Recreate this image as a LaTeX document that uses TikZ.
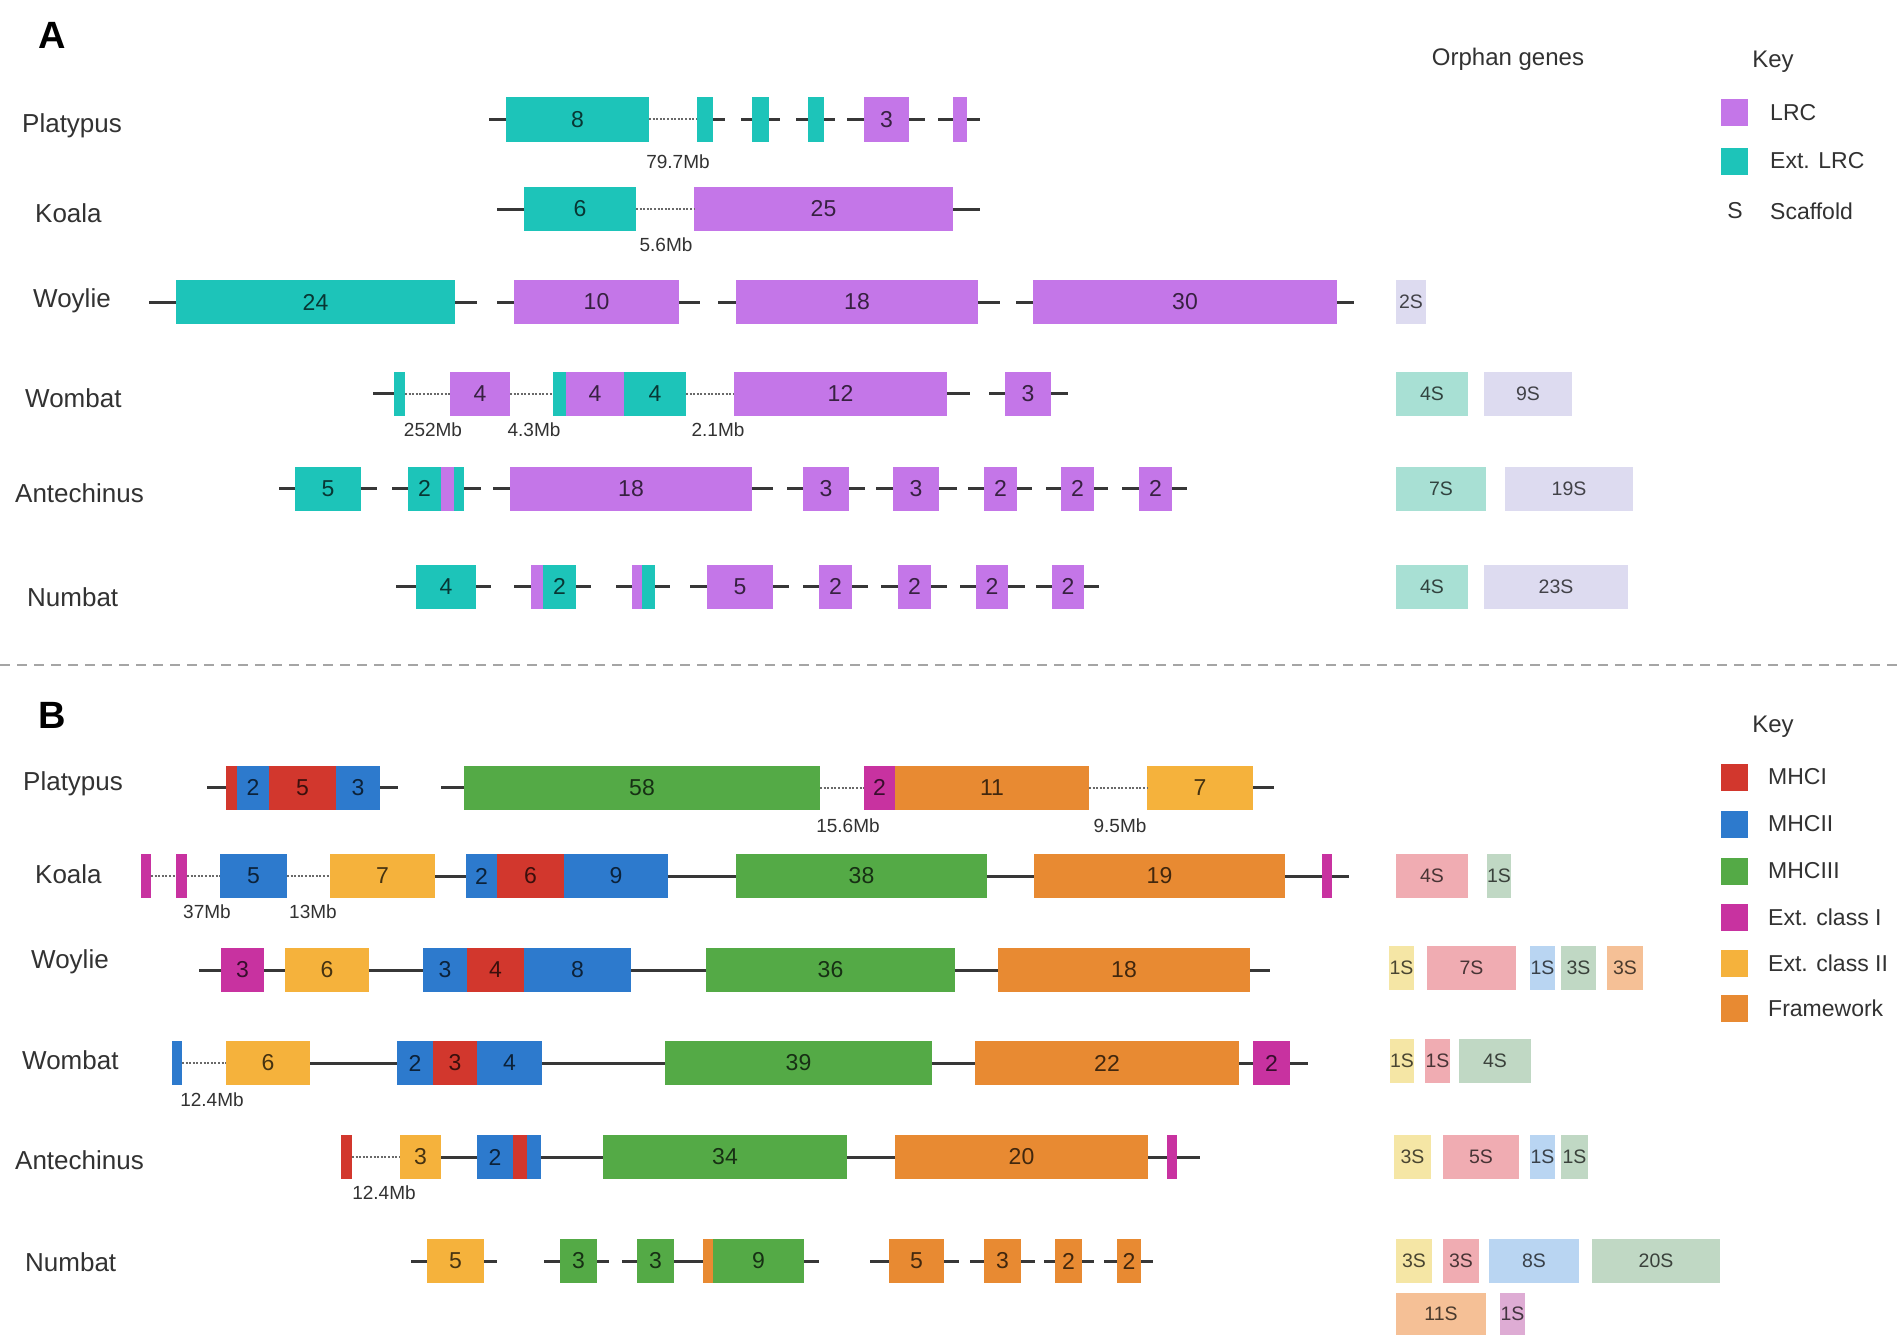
\documentclass[tikz,border=0pt]{standalone}
\usepackage{fontspec}
\setmainfont{Liberation Sans}
\definecolor{lrc}{RGB}{196,118,232}
\definecolor{extlrc}{RGB}{29,196,185}
\definecolor{mhcA}{RGB}{210,55,45}
\definecolor{mhcB}{RGB}{45,122,205}
\definecolor{mhcC}{RGB}{84,170,70}
\definecolor{extA}{RGB}{200,50,160}
\definecolor{extB}{RGB}{245,178,60}
\definecolor{frame}{RGB}{232,138,50}
\definecolor{oteal}{RGB}{168,224,212}
\definecolor{olav}{RGB}{221,219,240}
\definecolor{oyel}{RGB}{245,230,165}
\definecolor{opink}{RGB}{240,172,178}
\definecolor{oblue}{RGB}{185,213,242}
\definecolor{ogreen}{RGB}{192,216,196}
\definecolor{oorange}{RGB}{245,192,150}
\definecolor{omauve}{RGB}{222,172,212}
\definecolor{lineC}{RGB}{55,55,55}
\definecolor{labelC}{RGB}{50,50,50}
\definecolor{dotC}{RGB}{105,105,105}
\definecolor{sepC}{RGB}{165,165,165}
\newcommand{\genebox}[8][]{%
  \pgfmathsetmacro{\gbw}{#4-#3}%
  \pgfmathsetmacro{\gbx}{(#3+#4)/2}%
  \node[gb,#1,fill=#6,text=#7,minimum width=\gbw] (#2) at (\gbx,#5) {#8};}
\newcommand{\stubl}[2]{\draw[gline] (#1.west) -- ++(-#2,0);}
\newcommand{\stubr}[2]{\draw[gline] (#1.east) -- ++(#2,0);}
\newcommand{\solidc}[2]{\draw[gline] (#1.east) -- (#2.west);}
\newcommand{\dotc}[2]{\draw[dotl] (#1.east) -- (#2.west);}
\begin{document}
\begin{tikzpicture}[x=1pt,y=-1pt,
  gb/.style={inner sep=0pt,outer sep=0pt,draw=none,minimum height=44,font=\fontsize{23}{25}\selectfont},
  ob/.style={font=\fontsize{19.5}{21}\selectfont},
  species/.style={anchor=west,inner sep=0pt,text=labelC,font=\fontsize{26}{30}\selectfont},
  mb/.style={inner sep=0pt,text=labelC,font=\fontsize{19}{21}\selectfont},
  keytxt/.style={anchor=west,inner sep=0pt,text=labelC,font=\fontsize{23}{26}\selectfont},
  keysq/.style={inner sep=0pt,outer sep=0pt,minimum width=27,minimum height=27},
  heading/.style={inner sep=0pt,text=labelC,font=\fontsize{24}{27}\selectfont},
  panel/.style={inner sep=0pt,text=black,font=\bfseries\fontsize{38}{40}\selectfont},
  gline/.style={draw=lineC,line width=3pt},
  dotl/.style={draw=dotC,line width=2pt,dash pattern=on 2pt off 1.6pt},
  sepline/.style={draw=sepC,line width=2.5pt,dash pattern=on 10pt off 7pt}]
\useasboundingbox (0,0) rectangle (1902,1335);
\fill[white] (0,0) rectangle (1902,1335);

% ---------------- Panel A ----------------
\node[panel] (pA) at (52,35) {A};
\node[heading] (orph) at (1508,59) {Orphan genes};
\node[heading] (keyA) at (1773,62) {Key};
\node[keysq,fill=lrc] (kLRC) at (1734,113) {};
\node[keytxt] (tLRC) at (1770,113) {LRC};
\node[keysq,fill=extlrc] (kExt) at (1734,161) {};
\node[keytxt] (tExt) at (1770,161) {Ext. LRC};
\node[inner sep=0pt,text=labelC,font=\fontsize{23}{26}\selectfont] (kS) at (1735,211) {S};
\node[keytxt] (tS) at (1770,211) {Scaffold};

% Platypus A
\node[species] (sAp) at (22,126) {Platypus};
\genebox{ap1}{506}{649}{119.5}{extlrc}{extlrc!28!black}{8}
\genebox{ap2}{697}{713}{119.5}{extlrc}{extlrc!28!black}{}
\genebox{ap3}{752}{769}{119.5}{extlrc}{extlrc!28!black}{}
\genebox{ap4}{808}{824}{119.5}{extlrc}{extlrc!28!black}{}
\genebox{ap5}{864}{909}{119.5}{lrc}{lrc!28!black}{3}
\genebox{ap6}{953}{967}{119.5}{lrc}{lrc!28!black}{}
\stubl{ap1}{17}
\dotc{ap1}{ap2}
\stubr{ap2}{12}
\stubl{ap3}{11}\stubr{ap3}{11}
\stubl{ap4}{12}\stubr{ap4}{11}
\stubl{ap5}{17}\stubr{ap5}{16}
\stubl{ap6}{15}\stubr{ap6}{13}
\node[mb] (mAp) at (678,162) {79.7Mb};

% Koala A
\node[species] (sAk) at (35,213) {Koala};
\genebox{ak1}{524}{636}{209}{extlrc}{extlrc!28!black}{6}
\genebox{ak2}{694}{953}{209}{lrc}{lrc!28!black}{25}
\stubl{ak1}{27}
\dotc{ak1}{ak2}
\stubr{ak2}{27}
\node[mb] (mAk) at (666,245) {5.6Mb};

% Woylie A
\node[species] (sAw) at (33,301) {Woylie};
\genebox{aw1}{176}{455}{302}{extlrc}{extlrc!28!black}{24}
\genebox{aw2}{514}{679}{302}{lrc}{lrc!28!black}{10}
\genebox{aw3}{736}{978}{302}{lrc}{lrc!28!black}{18}
\genebox{aw4}{1033}{1337}{302}{lrc}{lrc!28!black}{30}
\stubl{aw1}{27}\stubr{aw1}{22}
\stubl{aw2}{17}\stubr{aw2}{21}
\stubl{aw3}{18}\stubr{aw3}{22}
\stubl{aw4}{17}\stubr{aw4}{17}
\genebox[ob]{awo1}{1396}{1426}{302}{olav}{olav!30!black}{2S}

% Wombat A
\node[species] (sAm) at (25,398) {Wombat};
\genebox{am1}{394}{405}{393.5}{extlrc}{extlrc!28!black}{}
\genebox{am2}{450}{510}{393.5}{lrc}{lrc!28!black}{4}
\genebox{am3}{553}{566}{393.5}{extlrc}{extlrc!28!black}{}
\genebox{am4}{566}{624}{393.5}{lrc}{lrc!28!black}{4}
\genebox{am5}{624}{686}{393.5}{extlrc}{extlrc!28!black}{4}
\genebox{am6}{734}{947}{393.5}{lrc}{lrc!28!black}{12}
\genebox{am7}{1005}{1051}{393.5}{lrc}{lrc!28!black}{3}
\stubl{am1}{21}
\dotc{am1}{am2}
\dotc{am2}{am3}
\dotc{am5}{am6}
\stubr{am6}{23}
\stubl{am7}{16}\stubr{am7}{17}
\node[mb] (mAm1) at (433,430) {252Mb};
\node[mb] (mAm2) at (534,430) {4.3Mb};
\node[mb] (mAm3) at (718,430) {2.1Mb};
\genebox[ob]{amo1}{1396}{1468}{393.5}{oteal}{oteal!30!black}{4S}
\genebox[ob]{amo2}{1484}{1572}{393.5}{olav}{olav!30!black}{9S}

% Antechinus A
\node[species] (sAa) at (15,493) {Antechinus};
\genebox{aa1}{295}{361}{488.5}{extlrc}{extlrc!28!black}{5}
\genebox{aa2}{408}{441}{488.5}{extlrc}{extlrc!28!black}{2}
\genebox{aa3}{441}{454}{488.5}{lrc}{lrc!28!black}{}
\genebox{aa4}{454}{464}{488.5}{extlrc}{extlrc!28!black}{}
\genebox{aa5}{510}{752}{488.5}{lrc}{lrc!28!black}{18}
\genebox{aa6}{803}{849}{488.5}{lrc}{lrc!28!black}{3}
\genebox{aa7}{893}{939}{488.5}{lrc}{lrc!28!black}{3}
\genebox{aa8}{984}{1017}{488.5}{lrc}{lrc!28!black}{2}
\genebox{aa9}{1061}{1094}{488.5}{lrc}{lrc!28!black}{2}
\genebox{aa10}{1139}{1172}{488.5}{lrc}{lrc!28!black}{2}
\stubl{aa1}{16}\stubr{aa1}{16}
\stubl{aa2}{16}\stubr{aa4}{17}
\stubl{aa5}{17}\stubr{aa5}{21}
\stubl{aa6}{16}\stubr{aa6}{16}
\stubl{aa7}{17}\stubr{aa7}{18}
\stubl{aa8}{16}\stubr{aa8}{15}
\stubl{aa9}{15}\stubr{aa9}{14}
\stubl{aa10}{17}\stubr{aa10}{15}
\genebox[ob]{aao1}{1396}{1486}{488.5}{oteal}{oteal!30!black}{7S}
\genebox[ob]{aao2}{1505}{1633}{488.5}{olav}{olav!30!black}{19S}

% Numbat A
\node[species] (sAn) at (27,597) {Numbat};
\genebox{an1}{416}{476}{586.5}{extlrc}{extlrc!28!black}{4}
\genebox{an2}{531}{543}{586.5}{lrc}{lrc!28!black}{}
\genebox{an3}{543}{576}{586.5}{extlrc}{extlrc!28!black}{2}
\genebox{an4}{632}{642}{586.5}{lrc}{lrc!28!black}{}
\genebox{an5}{642}{655}{586.5}{extlrc}{extlrc!28!black}{}
\genebox{an6}{707}{773}{586.5}{lrc}{lrc!28!black}{5}
\genebox{an7}{819}{852}{586.5}{lrc}{lrc!28!black}{2}
\genebox{an8}{898}{931}{586.5}{lrc}{lrc!28!black}{2}
\genebox{an9}{976}{1008}{586.5}{lrc}{lrc!28!black}{2}
\genebox{an10}{1052}{1084}{586.5}{lrc}{lrc!28!black}{2}
\stubl{an1}{20}\stubr{an1}{15}
\stubl{an2}{17}\stubr{an3}{15}
\stubl{an4}{16}\stubr{an5}{15}
\stubl{an6}{17}\stubr{an6}{16}
\stubl{an7}{16}\stubr{an7}{16}
\stubl{an8}{17}\stubr{an8}{16}
\stubl{an9}{16}\stubr{an9}{17}
\stubl{an10}{16}\stubr{an10}{15}
\genebox[ob]{ano1}{1396}{1468}{586.5}{oteal}{oteal!30!black}{4S}
\genebox[ob]{ano2}{1484}{1628}{586.5}{olav}{olav!30!black}{23S}

% separator
\coordinate (sepL) at (0,665);
\coordinate (sepR) at (1902,665);
\draw[sepline] (sepL) -- (sepR);

% ---------------- Panel B ----------------
\node[panel] (pB) at (52,715) {B};
\node[heading] (keyB) at (1773,727) {Key};
\node[keysq,fill=mhcA] (kM1) at (1734,777) {};
\node[keytxt] (tM1) at (1768,777) {MHCI};
\node[keysq,fill=mhcB] (kM2) at (1734,824) {};
\node[keytxt] (tM2) at (1768,824) {MHCII};
\node[keysq,fill=mhcC] (kM3) at (1734,871) {};
\node[keytxt] (tM3) at (1768,871) {MHCIII};
\node[keysq,fill=extA] (kE1) at (1734,917) {};
\node[keytxt] (tE1) at (1768,917) {Ext. class I};
\node[keysq,fill=extB] (kE2) at (1734,963) {};
\node[keytxt] (tE2) at (1768,963) {Ext. class II};
\node[keysq,fill=frame] (kFr) at (1734,1008) {};
\node[keytxt] (tFr) at (1768,1008) {Framework};

% Platypus B
\node[species] (sBp) at (23,784) {Platypus};
\genebox{bp1}{226}{237}{787.5}{mhcA}{mhcA!28!black}{}
\genebox{bp2}{237}{269}{787.5}{mhcB}{mhcB!28!black}{2}
\genebox{bp3}{269}{336}{787.5}{mhcA}{mhcA!28!black}{5}
\genebox{bp4}{336}{380}{787.5}{mhcB}{mhcB!28!black}{3}
\genebox{bp5}{464}{820}{787.5}{mhcC}{mhcC!28!black}{58}
\genebox{bp6}{864}{895}{787.5}{extA}{extA!28!black}{2}
\genebox{bp7}{895}{1089}{787.5}{frame}{frame!28!black}{11}
\genebox{bp8}{1147}{1253}{787.5}{extB}{extB!28!black}{7}
\stubl{bp1}{19}\stubr{bp4}{18}
\stubl{bp5}{23}
\dotc{bp5}{bp6}
\dotc{bp7}{bp8}
\stubr{bp8}{21}
\node[mb] (mBp1) at (848,826) {15.6Mb};
\node[mb] (mBp2) at (1120,826) {9.5Mb};

% Koala B
\node[species] (sBk) at (35,874) {Koala};
\genebox{bk1}{141}{151}{876}{extA}{extA!28!black}{}
\genebox{bk2}{176}{187}{876}{extA}{extA!28!black}{}
\genebox{bk3}{220}{287}{876}{mhcB}{mhcB!28!black}{5}
\genebox{bk4}{330}{435}{876}{extB}{extB!28!black}{7}
\genebox{bk5}{466}{497}{876}{mhcB}{mhcB!28!black}{2}
\genebox{bk6}{497}{564}{876}{mhcA}{mhcA!28!black}{6}
\genebox{bk7}{564}{668}{876}{mhcB}{mhcB!28!black}{9}
\genebox{bk8}{736}{987}{876}{mhcC}{mhcC!28!black}{38}
\genebox{bk9}{1034}{1285}{876}{frame}{frame!28!black}{19}
\genebox{bk10}{1322}{1332}{876}{extA}{extA!28!black}{}
\dotc{bk1}{bk2}
\dotc{bk2}{bk3}
\dotc{bk3}{bk4}
\solidc{bk4}{bk5}
\solidc{bk7}{bk8}
\solidc{bk8}{bk9}
\solidc{bk9}{bk10}
\stubr{bk10}{17}
\node[mb] (mBk1) at (207,912) {37Mb};
\node[mb] (mBk2) at (313,912) {13Mb};
\genebox[ob]{bko1}{1396}{1468}{876}{opink}{opink!30!black}{4S}
\genebox[ob]{bko2}{1487}{1511}{876}{ogreen}{ogreen!30!black}{1S}

% Woylie B
\node[species] (sBw) at (31,962) {Woylie};
\genebox{bw1}{221}{264}{970}{extA}{extA!28!black}{3}
\genebox{bw2}{285}{369}{970}{extB}{extB!28!black}{6}
\genebox{bw3}{423}{467}{970}{mhcB}{mhcB!28!black}{3}
\genebox{bw4}{467}{524}{970}{mhcA}{mhcA!28!black}{4}
\genebox{bw5}{524}{631}{970}{mhcB}{mhcB!28!black}{8}
\genebox{bw6}{706}{955}{970}{mhcC}{mhcC!28!black}{36}
\genebox{bw7}{998}{1250}{970}{frame}{frame!28!black}{18}
\stubl{bw1}{22}
\solidc{bw1}{bw2}
\solidc{bw2}{bw3}
\solidc{bw5}{bw6}
\solidc{bw6}{bw7}
\stubr{bw7}{20}
\genebox[ob]{bwo1}{1389}{1414}{968}{oyel}{oyel!30!black}{1S}
\genebox[ob]{bwo2}{1427}{1516}{968}{opink}{opink!30!black}{7S}
\genebox[ob]{bwo3}{1530}{1555}{968}{oblue}{oblue!30!black}{1S}
\genebox[ob]{bwo4}{1561}{1596}{968}{ogreen}{ogreen!30!black}{3S}
\genebox[ob]{bwo5}{1607}{1643}{968}{oorange}{oorange!30!black}{3S}

% Wombat B
\node[species] (sBm) at (22,1060) {Wombat};
\genebox{bm1}{172}{182}{1063}{mhcB}{mhcB!28!black}{}
\genebox{bm2}{226}{310}{1063}{extB}{extB!28!black}{6}
\genebox{bm3}{397}{433}{1063}{mhcB}{mhcB!28!black}{2}
\genebox{bm4}{433}{477}{1063}{mhcA}{mhcA!28!black}{3}
\genebox{bm5}{477}{542}{1063}{mhcB}{mhcB!28!black}{4}
\genebox{bm6}{665}{932}{1063}{mhcC}{mhcC!28!black}{39}
\genebox{bm7}{975}{1239}{1063}{frame}{frame!28!black}{22}
\genebox{bm8}{1253}{1290}{1063}{extA}{extA!28!black}{2}
\dotc{bm1}{bm2}
\solidc{bm2}{bm3}
\solidc{bm5}{bm6}
\solidc{bm6}{bm7}
\solidc{bm7}{bm8}
\stubr{bm8}{18}
\node[mb] (mBm) at (212,1100) {12.4Mb};
\genebox[ob]{bmo1}{1390}{1414}{1061}{oyel}{oyel!30!black}{1S}
\genebox[ob]{bmo2}{1425}{1450}{1061}{opink}{opink!30!black}{1S}
\genebox[ob]{bmo3}{1459}{1531}{1061}{ogreen}{ogreen!30!black}{4S}

% Antechinus B
\node[species] (sBa) at (15,1160) {Antechinus};
\genebox{ba1}{341}{352}{1157}{mhcA}{mhcA!28!black}{}
\genebox{ba2}{400}{441}{1157}{extB}{extB!28!black}{3}
\genebox{ba3}{477}{513}{1157}{mhcB}{mhcB!28!black}{2}
\genebox{ba4}{513}{527}{1157}{mhcA}{mhcA!28!black}{}
\genebox{ba5}{527}{541}{1157}{mhcB}{mhcB!28!black}{}
\genebox{ba6}{603}{847}{1157}{mhcC}{mhcC!28!black}{34}
\genebox{ba7}{895}{1148}{1157}{frame}{frame!28!black}{20}
\genebox{ba8}{1167}{1177}{1157}{extA}{extA!28!black}{}
\dotc{ba1}{ba2}
\solidc{ba2}{ba3}
\solidc{ba5}{ba6}
\solidc{ba6}{ba7}
\solidc{ba7}{ba8}
\stubr{ba8}{23}
\node[mb] (mBa) at (384,1193) {12.4Mb};
\genebox[ob]{bao1}{1394}{1431}{1157}{oyel}{oyel!30!black}{3S}
\genebox[ob]{bao2}{1443}{1519}{1157}{opink}{opink!30!black}{5S}
\genebox[ob]{bao3}{1530}{1555}{1157}{oblue}{oblue!30!black}{1S}
\genebox[ob]{bao4}{1561}{1588}{1157}{ogreen}{ogreen!30!black}{1S}

% Numbat B
\node[species] (sBn) at (25,1262) {Numbat};
\genebox{bn1}{427}{484}{1261}{extB}{extB!28!black}{5}
\genebox{bn2}{560}{597}{1261}{mhcC}{mhcC!28!black}{3}
\genebox{bn3}{637}{674}{1261}{mhcC}{mhcC!28!black}{3}
\genebox{bn4}{703}{713}{1261}{frame}{frame!28!black}{}
\genebox{bn5}{713}{804}{1261}{mhcC}{mhcC!28!black}{9}
\genebox{bn6}{889}{944}{1261}{frame}{frame!28!black}{5}
\genebox{bn7}{984}{1021}{1261}{frame}{frame!28!black}{3}
\genebox{bn8}{1055}{1082}{1261}{frame}{frame!28!black}{2}
\genebox{bn9}{1117}{1141}{1261}{frame}{frame!28!black}{2}
\stubl{bn1}{16}\stubr{bn1}{13}
\stubl{bn2}{16}\stubr{bn2}{12}
\stubl{bn3}{15}
\solidc{bn3}{bn4}
\stubr{bn5}{15}
\stubl{bn6}{19}\stubr{bn6}{15}
\stubl{bn7}{14}\stubr{bn7}{14}
\stubl{bn8}{11}\stubr{bn8}{12}
\stubl{bn9}{13}\stubr{bn9}{12}
\genebox[ob]{bno1}{1396}{1432}{1261}{oyel}{oyel!30!black}{3S}
\genebox[ob]{bno2}{1443}{1479}{1261}{opink}{opink!30!black}{3S}
\genebox[ob]{bno3}{1489}{1579}{1261}{oblue}{oblue!30!black}{8S}
\genebox[ob]{bno4}{1592}{1720}{1261}{ogreen}{ogreen!30!black}{20S}
\genebox[ob,minimum height=42]{bno5}{1396}{1486}{1314}{oorange}{oorange!30!black}{11S}
\genebox[ob,minimum height=42]{bno6}{1500}{1525}{1314}{omauve}{omauve!30!black}{1S}
\end{tikzpicture}
\end{document}
